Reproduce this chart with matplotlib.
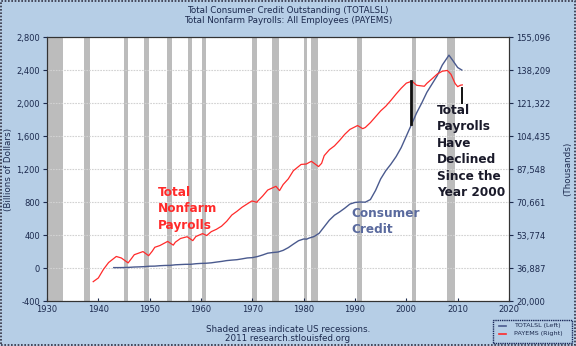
import matplotlib
matplotlib.use("Agg")
from matplotlib import pyplot as plt
from matplotlib.patches import Rectangle

# Total consumer credit outstanding, billions of dollars (left axis)
credit_years = [1943, 1944, 1945, 1946, 1947, 1948, 1949, 1950, 1951, 1952, 1953, 1954,
                1955, 1956, 1957, 1958, 1959, 1960, 1961, 1962, 1963, 1964, 1965, 1966,
                1967, 1968, 1969, 1970, 1971, 1972, 1973, 1974, 1975, 1976, 1977, 1978,
                1979, 1980, 1980.6, 1981, 1982, 1983, 1984, 1985, 1986, 1987, 1988, 1989,
                1990, 1991, 1992, 1993, 1994, 1995, 1996, 1997, 1998, 1999, 2000, 2001,
                2002, 2003, 2004, 2005, 2006, 2007, 2008.3, 2009, 2010, 2010.8]
credit_values = [5, 5, 6, 8, 12, 14, 17, 22, 23, 28, 31, 32,
                 39, 42, 45, 45, 52, 56, 58, 63, 72, 80, 90, 96,
                 101, 111, 122, 126, 139, 158, 180, 188, 194, 214, 247, 290,
                 331, 352, 350, 362, 381, 420, 500, 580, 640, 680, 725, 775,
                 795, 800, 798, 830, 940, 1080, 1180, 1260, 1350, 1460, 1600, 1740,
                 1880, 2000, 2130, 2230, 2330, 2460, 2580, 2520, 2430, 2400]

# Total nonfarm payrolls, thousands of persons (right axis)
payroll_years = [1939, 1940, 1941, 1942, 1943.5, 1944.5, 1945.8, 1946.5, 1947, 1948.7,
                 1949.8, 1950.5, 1951, 1952, 1953.5, 1954.6, 1955, 1956, 1957.3, 1958.4,
                 1959, 1960.3, 1961.1, 1962, 1963, 1964, 1965, 1966, 1967, 1968,
                 1969.9, 1970.9, 1971, 1972, 1973, 1974.6, 1975.3, 1976, 1977, 1978,
                 1979.5, 1980.5, 1981.5, 1982.9, 1983.5, 1984, 1985, 1986, 1987, 1988,
                 1989, 1990.5, 1991.5, 1992, 1993, 1994, 1995, 1996, 1997, 1998,
                 1999, 2000, 2001.1, 2002, 2003.5, 2004, 2005, 2006, 2007, 2008.0,
                 2008.7, 2009.5, 2010.0, 2010.5, 2010.9]
payroll_values = [29900, 31800, 36200, 39700, 42800, 42000, 39500, 41900, 43700, 45300,
                  43200, 45500, 47500, 48400, 50500, 48600, 50100, 52000, 52900, 50900,
                  53000, 54500, 53500, 55500, 56700, 58300, 60800, 64000, 65900, 68000,
                  71200, 70500, 71000, 73700, 76800, 78700, 76500, 79600, 82500, 86700,
                  89900, 90100, 91500, 88800, 90500, 94400, 97400, 99400, 102200, 105300,
                  107800, 109800, 108200, 108800, 111300, 114300, 117300, 119700, 122700, 125900,
                  128900, 131500, 132500, 130400, 129900, 131400, 133700, 136100, 137600, 138000,
                  136000, 131300, 129700, 130400, 130600]

# US recessions (start, end) in decimal years, as shaded on the chart
recessions = [(1929.6, 1933.2), (1937.3, 1938.4), (1945.0, 1945.8), (1948.8, 1949.9),
              (1953.4, 1954.4), (1957.5, 1958.3), (1960.2, 1961.0), (1969.9, 1970.9),
              (1973.8, 1975.2), (1980.0, 1980.6), (1981.5, 1982.8), (1990.4, 1991.3),
              (2001.1, 2001.9), (2007.9, 2009.5)]

left_ticks = [-400, 0, 400, 800, 1200, 1600, 2000, 2400, 2800]
right_ticks = [20000, 36887, 53774, 70661, 87548, 104435, 121322, 138209, 155096]
year_ticks = [1930, 1940, 1950, 1960, 1970, 1980, 1990, 2000, 2010, 2020]

# black marker bars (year, low, high) in payroll units
drop_bars = [(2001.0, 110600, 132500, 2.0), (2010.9, 121300, 129000, 1.4)]

bg = '#b6cee6'
ink = '#1c2a4e'
red = '#ff2a2a'
navy = '#4a5a8e'

fig = plt.figure(figsize=(5.76, 3.46), dpi=100, facecolor=bg)
ax = fig.add_axes([0.0816, 0.130, 0.8021, 0.763])
ax.set_facecolor('white')
ax2 = ax.twinx()
ax2.patch.set_visible(False)

for start, end in recessions:
    ax.axvspan(start, end, color='#bcbcbc', lw=0, zorder=0.5)

ax.set_xlim(1930, 2020)
ax.set_ylim(-400, 2800)
ax2.set_ylim(20000, 155096)

ax.set_yticks(left_ticks)
ax.set_yticklabels([f"{v:,}" for v in left_ticks])
ax2.set_yticks(right_ticks)
ax2.set_yticklabels([f"{v:,}" for v in right_ticks])
ax.set_xticks(year_ticks)
ax.grid(axis='y', color='#d2d2d2', lw=0.8, ls=(0, (1.5, 1)), zorder=0.3)
ax.set_axisbelow(True)

ax.tick_params(axis='y', direction='out', length=3, labelsize=6.0, colors=ink, pad=2)
ax.tick_params(axis='x', direction='in', length=2, labelsize=6.0, colors=ink, pad=3)
ax2.tick_params(axis='y', direction='out', length=3, labelsize=6.0, colors=ink, pad=2)
for sp in list(ax.spines.values()) + list(ax2.spines.values()):
    sp.set_color('#333333')
    sp.set_linewidth(0.8)

ax.set_ylabel('(Billions of Dollars)', fontsize=6.3, color=ink)
ax.yaxis.set_label_coords(-0.0736, 0.5)
ax2.set_ylabel('(Thousands)', fontsize=6.3, color=ink)
ax2.yaxis.set_label_coords(1.117, 0.5)

# Blue on the left scale, red on the right scale
ax.plot(credit_years, credit_values, color=navy, lw=1.0, zorder=3)
ax2.plot(payroll_years, payroll_values, color=red, lw=0.9, zorder=3)

for year, low, high, width in drop_bars:
    ax2.plot([year, year], [low, high], color='#111111', lw=width, zorder=4)

bold = dict(fontsize=8.7, fontweight='bold', linespacing=1.35, va='top', ha='left')
ax.text(1951.6, 1000, 'Total\nNonfarm\nPayrolls', color=red, **bold)
ax.text(1989.3, 745, 'Consumer\nCredit', color='#5a6a9e', **bold)
ax.text(2006.0, 1990, 'Total\nPayrolls\nHave\nDeclined\nSince the\nYear 2000', color='#1a1a2a', **bold)

fig.text(0.5, 0.971, 'Total Consumer Credit Outstanding (TOTALSL)', ha='center', va='center',
         fontsize=6.3, color=ink)
fig.text(0.5, 0.940, 'Total Nonfarm Payrolls: All Employees (PAYEMS)', ha='center', va='center',
         fontsize=6.3, color=ink)
fig.text(0.5, 0.048, 'Shaded areas indicate US recessions.', ha='center', va='center',
         fontsize=6.3, color=ink)
fig.text(0.5, 0.021, '2011 research.stlouisfed.org', ha='center', va='center',
         fontsize=6.3, color=ink)

# legend box in the lower right corner
lx, ly, lw_, lh = 0.856, 0.009, 0.137, 0.065
fig.patches.append(Rectangle((lx, ly), lw_, lh, transform=fig.transFigure,
                             facecolor=bg, edgecolor='#1c2a5a', lw=1.0, ls=(0, (1, 0.6))))
fig.lines.append(plt.Line2D([lx + 0.011, lx + 0.023], [0.059, 0.059],
                            transform=fig.transFigure, color=navy, lw=1.2))
fig.lines.append(plt.Line2D([lx + 0.011, lx + 0.023], [0.035, 0.035],
                            transform=fig.transFigure, color=red, lw=1.2))
fig.text(lx + 0.037, 0.059, 'TOTALSL (Left)', fontsize=4.6, va='center', color=ink)
fig.text(lx + 0.037, 0.035, 'PAYEMS (Right)', fontsize=4.6, va='center', color=ink)

# dotted frame round the whole picture
fig.patches.append(Rectangle((0.002, 0.003), 0.996, 0.994, transform=fig.transFigure,
                             facecolor='none', edgecolor='#333344', lw=1.2, ls=(0, (1, 1))))

fig.savefig('out.png', dpi=100, facecolor=bg)
